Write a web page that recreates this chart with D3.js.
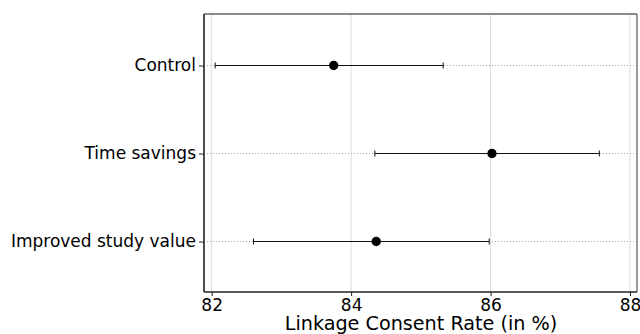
<!DOCTYPE html>
<html><head><meta charset="utf-8">
<script src="https://cdn.jsdelivr.net/npm/d3@7"></script>
<style>body{margin:0;background:#fff}svg{display:block}text{font-family:"DejaVu Sans",sans-serif;fill:#000}</style>
</head><body><svg id="c" width="640" height="334"></svg>
<script>
const categories = ["Control", "Time savings", "Improved study value"];
const estimates = [83.75, 86.02, 84.36];
const lowerCI = [82.05, 84.34, 82.60];
const upperCI = [85.32, 87.56, 85.98];
const xTicks = [82, 84, 86, 88];
const xLabel = "Linkage Consent Rate (in %)";

const svg = d3.select("#c");
const L = 204, R = 637, T = 14, B = 292;
const x = d3.scaleLinear().domain([81.89, 88.1]).range([L, R]);
const y = d3.scalePoint().domain(categories).range([65.5, 241.5]);

// vertical grid
svg.append("g").selectAll("line").data(xTicks).join("line")
  .attr("x1", d => x(d)).attr("x2", d => x(d)).attr("y1", T).attr("y2", B)
  .attr("stroke", "#dcdcdc").attr("stroke-width", 1);
// horizontal dotted lines
svg.append("g").selectAll("line").data(categories).join("line")
  .attr("x1", L).attr("x2", R).attr("y1", d => y(d)).attr("y2", d => y(d))
  .attr("stroke", "#aaa").attr("stroke-width", 1).attr("stroke-dasharray", "1,2");

// spines
svg.append("line").attr("x1", L).attr("x2", R).attr("y1", T).attr("y2", T).attr("stroke", "#666").attr("stroke-width", 1.3);
svg.append("line").attr("x1", R).attr("x2", R).attr("y1", T).attr("y2", B).attr("stroke", "#666").attr("stroke-width", 1.3);

// error bars
const data = categories.map((c, i) => ({c, e: estimates[i], lo: lowerCI[i], hi: upperCI[i]}));
const g = svg.append("g");
g.selectAll(".bar").data(data).join("line")
  .attr("x1", d => x(d.lo)).attr("x2", d => x(d.hi)).attr("y1", d => y(d.c)).attr("y2", d => y(d.c))
  .attr("stroke", "#111").attr("stroke-width", 1.1);
g.selectAll(".capl").data(data).join("line")
  .attr("x1", d => x(d.lo)).attr("x2", d => x(d.lo)).attr("y1", d => y(d.c) - 3).attr("y2", d => y(d.c) + 3)
  .attr("stroke", "#111").attr("stroke-width", 1);
g.selectAll(".capr").data(data).join("line")
  .attr("x1", d => x(d.hi)).attr("x2", d => x(d.hi)).attr("y1", d => y(d.c) - 3).attr("y2", d => y(d.c) + 3)
  .attr("stroke", "#111").attr("stroke-width", 1);
g.selectAll("circle").data(data).join("circle")
  .attr("cx", d => x(d.e)).attr("cy", d => y(d.c)).attr("r", 4.7).attr("fill", "#000");

// axes
const xa = svg.append("g").attr("transform", `translate(0,${B})`)
  .call(d3.axisBottom(x).tickValues(xTicks).tickSize(4).tickPadding(3).tickFormat(d3.format("d")));
xa.attr("font-size", null).attr("font-family", null);
xa.select(".domain").attr("stroke", "#222").attr("stroke-width", 1.6).attr("d", `M${L},0H${R}`);
xa.selectAll("text").style("font-size", "17px");
xa.selectAll(".tick line").attr("stroke", "#222");

const ya = svg.append("g").attr("transform", `translate(${L},0)`)
  .call(d3.axisLeft(y).tickSize(5).tickPadding(3));
ya.attr("font-size", null).attr("font-family", null);
ya.select(".domain").attr("stroke", "#222").attr("stroke-width", 1.6).attr("d", `M0,${T}V${B}`);
ya.selectAll("text").style("font-size", "17px");
ya.selectAll(".tick line").attr("stroke", "#222");

svg.append("text").attr("x", (L + R) / 2 + 0.5).attr("y", 330).attr("text-anchor", "middle")
  .style("font-size", "19.2px").text(xLabel);
</script></body></html>
